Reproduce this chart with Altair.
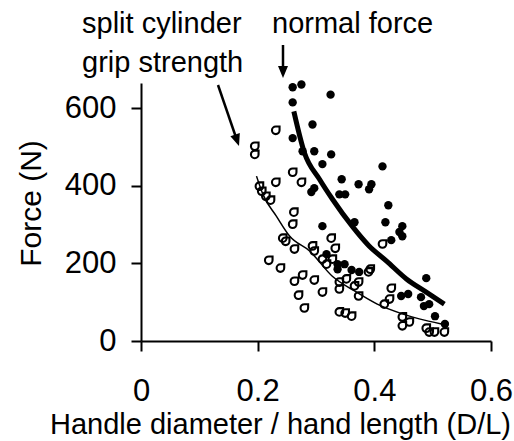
import altair as alt
import pandas as pd

FONT = "Liberation Sans"

# Normal force measurements (filled markers)
normal_dl = [0.260, 0.275, 0.325, 0.260, 0.294, 0.260, 0.277, 0.297, 0.326, 0.311,
             0.292, 0.297, 0.344, 0.373, 0.395, 0.391, 0.414, 0.340, 0.350, 0.424,
             0.366, 0.419, 0.448, 0.443, 0.448, 0.429, 0.311, 0.318, 0.337, 0.349,
             0.337, 0.361, 0.374, 0.489, 0.446, 0.458, 0.480, 0.485, 0.494, 0.504,
             0.521]
normal_force = [654, 661, 635, 615, 558, 523, 489, 489, 481, 456,
                384, 394, 417, 404, 404, 391, 450, 378, 378, 350,
                306, 306, 296, 281, 270, 260, 296, 224, 198, 198,
                185, 183, 178, 162, 116, 121, 113, 90, 95, 64,
                44]

# Split cylinder grip strength (open markers)
grip_dl = [0.231, 0.195, 0.195, 0.260, 0.231, 0.275, 0.203, 0.207, 0.214, 0.222,
           0.262, 0.260, 0.243, 0.248, 0.263, 0.294, 0.297, 0.326, 0.333, 0.219,
           0.239, 0.277, 0.263, 0.297, 0.311, 0.318, 0.328, 0.340, 0.352, 0.366,
           0.373, 0.270, 0.311, 0.340, 0.280, 0.340, 0.350, 0.361, 0.414, 0.393,
           0.390, 0.373, 0.429, 0.426, 0.417, 0.448, 0.460, 0.448, 0.489, 0.494,
           0.503, 0.520]
grip_force = [543, 502, 481, 435, 409, 409, 399, 386, 373, 363,
              332, 301, 265, 257, 237, 245, 232, 265, 239, 208,
              188, 170, 154, 157, 211, 198, 211, 152, 160, 142,
              152, 118, 126, 134, 85, 75, 72, 64, 250, 185,
              178, 116, 136, 108, 95, 62, 49, 39, 33, 23,
              23, 23]

# Fitted trend curves
normal_fit_dl = [0.262, 0.280, 0.306, 0.328, 0.362, 0.391, 0.421, 0.455, 0.489, 0.520]
normal_fit_force = [592, 486, 417, 366, 296, 245, 206, 160, 126, 95]
grip_fit_dl = [0.198, 0.209, 0.232, 0.255, 0.289, 0.328, 0.366, 0.405, 0.448, 0.477, 0.515]
grip_fit_force = [425, 378, 322, 270, 232, 167, 129, 95, 70, 57, 44]

normal_df = pd.DataFrame({"dl": normal_dl, "force": normal_force})
grip_df = pd.DataFrame({"dl": grip_dl, "force": grip_force})
normal_fit_df = pd.DataFrame({"dl": normal_fit_dl, "force": normal_fit_force})
grip_fit_df = pd.DataFrame({"dl": grip_fit_dl, "force": grip_fit_force})
one_row = pd.DataFrame({"k": [0]})

x_enc = alt.X(
    "dl:Q",
    scale=alt.Scale(domain=[0, 0.6], nice=False, zero=False),
    axis=alt.Axis(
        values=[0, 0.2, 0.4, 0.6], format="~g",
        title="Handle diameter / hand length (D/L)",
        labelPadding=25, labelFlush=False, labelOverlap=False,
        titleX=139, titleY=69, titleBaseline="top", titleAlign="center",
    ),
)
y_enc = alt.Y(
    "force:Q",
    scale=alt.Scale(domain=[0, 665], nice=False),
    axis=alt.Axis(
        values=[0, 200, 400, 600], title="Force (N)",
        labelPadding=15, labelFlush=False, labelOverlap=False,
        titleAngle=270, titleAlign="center",
        titleBaseline="alphabetic", titleX=-101, titleY=120, titleFontSize=30,
    ),
)

# Teardrop-like open marker: a circle with one squared-off corner
DROP = "M0.85,-0.85L0.85,0A0.85,0.85 0 1 1 0,-0.85Z"

grip_pts = alt.Chart(grip_df).mark_point(
    shape=DROP, filled=False, color="black", size=80, strokeWidth=2.1, opacity=1
).encode(x=x_enc, y=y_enc)

normal_pts = alt.Chart(normal_df).mark_point(
    shape="circle", filled=True, color="black", size=70, opacity=1
).encode(x=x_enc, y=y_enc)

grip_line = alt.Chart(grip_fit_df).mark_line(
    color="black", strokeWidth=1.5, interpolate="monotone"
).encode(x=x_enc, y=y_enc)

normal_line = alt.Chart(normal_fit_df).mark_line(
    color="black", strokeWidth=5, interpolate="monotone"
).encode(x=x_enc, y=y_enc)


def label(text, px, py):
    return alt.Chart(one_row).mark_text(
        text=text, align="left", baseline="alphabetic",
        font=FONT, fontSize=29, color="black"
    ).encode(x=alt.value(px), y=alt.value(py))


ARROW_HEAD = "M0,0L-1,-2.4L1,-2.4Z"

normal_shaft = alt.Chart(one_row).mark_rule(color="black", strokeWidth=2.5).encode(
    x=alt.value(142), x2=alt.value(142), y=alt.value(-38), y2=alt.value(-15)
)
normal_head = alt.Chart(one_row).mark_point(
    shape=ARROW_HEAD, filled=True, color="black", size=100, opacity=1, strokeWidth=0
).encode(x=alt.value(142), y=alt.value(-5))

grip_shaft = alt.Chart(one_row).mark_rule(color="black", strokeWidth=2.5).encode(
    x=alt.value(77), x2=alt.value(94.5), y=alt.value(2), y2=alt.value(53)
)
grip_head = alt.Chart(one_row).mark_point(
    shape=ARROW_HEAD, filled=True, color="black", size=100, opacity=1,
    strokeWidth=0, angle=341
).encode(x=alt.value(98), y=alt.value(63))

chart = alt.layer(
    grip_line, normal_line, grip_pts, normal_pts,
    label("normal force", 131, -50),
    label("split cylinder", -59, -50),
    label("grip strength", -59, -11),
    normal_shaft, normal_head, grip_shaft, grip_head,
).properties(
    width=350, height=258,
    autosize=alt.AutoSizeParams(type="none"),
    padding={"left": 141, "top": 83, "right": 23, "bottom": 99},
    background="white",
).configure_view(stroke=None).configure_axis(
    grid=False,
    domainColor="black", domainWidth=2,
    tickColor="black", tickWidth=2, tickSize=10,
    labelFont=FONT, labelFontSize=31, labelColor="black",
    titleFont=FONT, titleFontSize=29, titleFontWeight="normal", titleColor="black",
)

chart.save("out.html", embed_options={"renderer": "svg", "actions": False})
